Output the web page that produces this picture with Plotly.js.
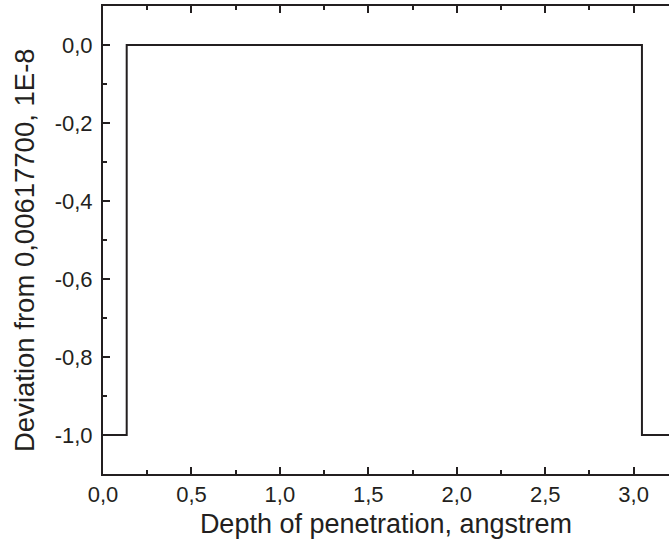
<!DOCTYPE html>
<html>
<head>
<meta charset="utf-8">
<script src="https://cdn.plot.ly/plotly-3.0.1.min.js"></script>
<style>html,body{margin:0;padding:0;background:#fff;}#chart{width:669px;height:546px;}</style>
</head>
<body>
<div id="chart"></div>
<script>
const depth = [0, 0.134, 0.134, 3.047, 3.047, 3.2];
const deviation = [-1, -1, 0, 0, -1, -1];
const xTickVals = [0, 0.5, 1, 1.5, 2, 2.5, 3];
const xTickText = ["0,0", "0,5", "1,0", "1,5", "2,0", "2,5", "3,0"];
const yTickVals = [0, -0.2, -0.4, -0.6, -0.8, -1];
const yTickText = ["0,0", "-0,2", "-0,4", "-0,6", "-0,8", "-1,0"];
const xTitle = "Depth of penetration, angstrem";
const yTitle = "Deviation from 0,00617700, 1E-8";

const ink = "#231f20";
const trace = {
  x: depth, y: deviation, mode: "lines", type: "scatter",
  line: {color: ink, width: 2}, hoverinfo: "skip"
};
const layout = {
  width: 669, height: 546,
  margin: {l: 103, r: 0, t: 6, b: 72},
  showlegend: false,
  paper_bgcolor: "#fff", plot_bgcolor: "#fff",
  font: {family: "Liberation Sans, Arial, sans-serif", color: ink},
  xaxis: {
    range: [0, 3.2], tickmode: "array", tickvals: xTickVals, ticktext: xTickText,
    ticks: "inside", ticklen: 7, tickwidth: 2, tickcolor: ink,
    showline: true, linewidth: 2, linecolor: ink, mirror: "ticks",
    showgrid: false, zeroline: false,
    tickfont: {size: 22, color: ink},
    minor: {ticks: "inside", tickmode: "linear", tick0: 0, dtick: 0.25, ticklen: 4, tickwidth: 2, tickcolor: ink, showgrid: false},
    title: {text: xTitle, font: {size: 27, color: ink}, standoff: 8}
  },
  yaxis: {
    range: [-1.1, 0.1], tickmode: "array", tickvals: yTickVals, ticktext: yTickText,
    ticks: "inside", ticklen: 7, tickwidth: 2, tickcolor: ink,
    ticklabelstandoff: 4,
    showline: true, linewidth: 2, linecolor: ink, mirror: false,
    showgrid: false, zeroline: false,
    tickfont: {size: 22, color: ink},
    minor: {ticks: "inside", tickmode: "linear", tick0: 0, dtick: 0.1, ticklen: 4, tickwidth: 2, tickcolor: ink, showgrid: false}
  },
  annotations: [{
    text: yTitle, textangle: -90, showarrow: false,
    xref: "paper", yref: "paper", x: -0.1396, y: 0.4786,
    xanchor: "center", yanchor: "middle",
    font: {size: 27.5, color: ink}
  }]
};
Plotly.newPlot("chart", [trace], layout, {staticPlot: true, displayModeBar: false});
</script>
</body>
</html>
